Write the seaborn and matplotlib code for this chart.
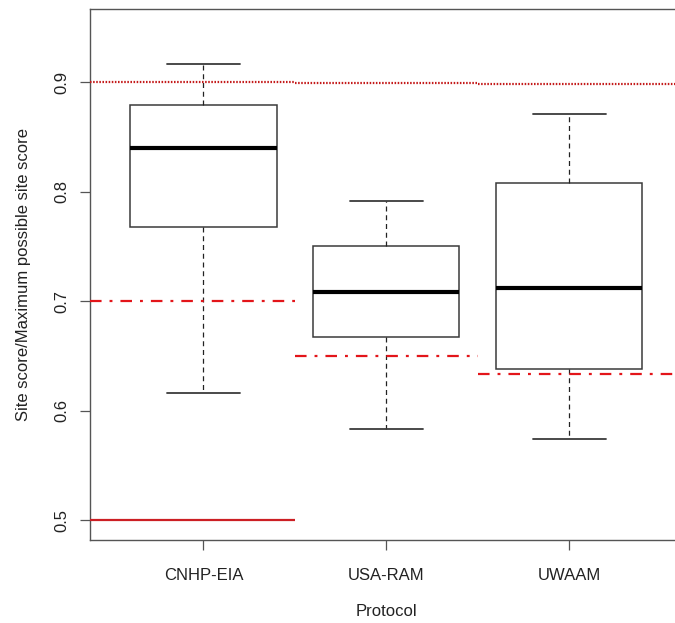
import matplotlib
matplotlib.use("Agg")
import matplotlib.pyplot as plt
import seaborn as sns
import pandas as pd

# ---- data (five-number summaries) ----
protocols = ["CNHP-EIA", "USA-RAM", "UWAAM"]
cnhp_eia = [0.616, 0.768, 0.840, 0.879, 0.916]
usa_ram = [0.583, 0.667, 0.708, 0.750, 0.791]
uwaam = [0.574, 0.638, 0.712, 0.808, 0.871]

# reference thresholds per protocol
upper_ref = [0.900, 0.899, 0.898]      # dotted
mid_ref = [0.700, 0.650, 0.633]        # dot-dash
low_ref = [0.500]                      # solid (CNHP-EIA only)
seg_lo = [-0.62, 0.5, 1.5]
seg_hi = [0.5, 1.5, 2.62]

yticks = [0.5, 0.6, 0.7, 0.8, 0.9]

rows = []
for name, vals in zip(protocols, [cnhp_eia, usa_ram, uwaam]):
    for v in vals:
        rows.append({"Protocol": name, "score": v})
df = pd.DataFrame(rows)

sns.set_theme(style="white")
plt.rcParams["font.family"] = ["Liberation Sans", "DejaVu Sans"]

fig = plt.figure(figsize=(6.75, 6.23), dpi=100)
ax = fig.add_axes([90 / 675, 1 - 540 / 623, (682.5 - 90) / 675, (540 - 8.7) / 623])

box_col = "#3a3a3a"
sns.boxplot(
    data=df, x="Protocol", y="score", order=protocols, ax=ax,
    color="white", linecolor=box_col, linewidth=1.1, width=0.8, whis=1.5,
    medianprops=dict(color="black", linewidth=3.0),
    whiskerprops=dict(color="#222222", linewidth=0.9, linestyle=(0, (4, 3))),
    capprops=dict(color=box_col, linewidth=1.3),
    showfliers=False,
)

# reference lines
for i in range(3):
    ax.hlines(upper_ref[i], seg_lo[i], seg_hi[i], colors="#c41a1a", linewidth=1.6,
              linestyles=(0, (0.7, 0.7)), zorder=5)
    ax.hlines(mid_ref[i], seg_lo[i], seg_hi[i], colors="#e3151a", linewidth=1.6,
              linestyles=(0, (5.2, 3.6, 1.3, 3.6)), zorder=5)
ax.hlines(low_ref[0], seg_lo[0], seg_hi[0], colors="#cc1f24", linewidth=1.6, zorder=5)

ax.set_xlim(-0.62, 2.62)
ax.set_ylim(0.48174, 0.96694)
ax.set_yticks(yticks)
ax.set_yticklabels([f"{t:.1f}" for t in yticks], rotation=90, va="center")

for s in ax.spines.values():
    s.set_color("#555555")
    s.set_linewidth(1.0)
    s.set_visible(True)

ax.tick_params(axis="both", which="both", direction="out", length=7, width=0.9,
               color="#555555", labelsize=12, labelcolor="#222222",
               left=True, bottom=True)
ax.tick_params(axis="x", pad=13)
ax.tick_params(axis="y", pad=8)

ax.set_xlabel("Protocol", fontsize=12, color="#222222", labelpad=15)
ax.set_ylabel("Site score/Maximum possible site score", fontsize=12, color="#222222", labelpad=17)

fig.savefig("out.png", dpi=100)
